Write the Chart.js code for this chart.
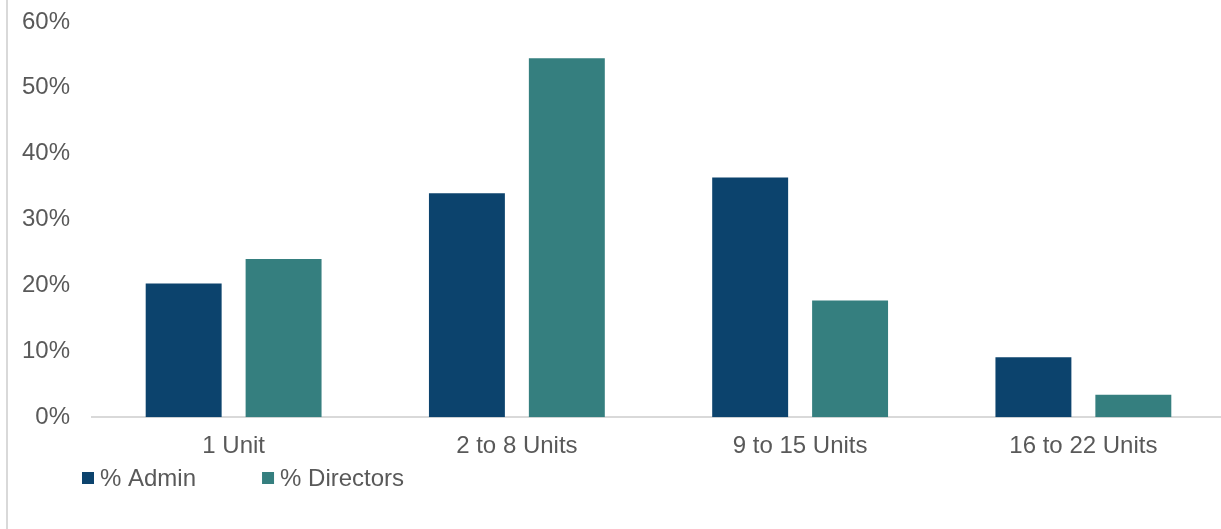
<!DOCTYPE html>
<html>
<head>
<meta charset="utf-8">
<script src="https://cdn.jsdelivr.net/npm/chart.js@4"></script>
<style>
    html, body { margin: 0; padding: 0; background: #fff; overflow: hidden; }
    .frame { position: relative; width: 1221px; height: 529px; overflow: hidden; }
    .frame .edge { position: absolute; left: 6px; top: 0; width: 2px; height: 529px; background: #d9d9d9; }
    .frame .wrap { position: absolute; left: 0; top: 0; width: 1225px; height: 529px; }
</style>
</head>
<body>
<div class="frame">
    <div class="edge"></div>
    <div class="wrap"><canvas id="units-chart"></canvas></div>
</div>
<script>
const categories = ["1 Unit", "2 to 8 Units", "9 to 15 Units", "16 to 22 Units"];
const adminPct = [20.3, 34.0, 36.4, 9.1];
const directorsPct = [24.0, 54.5, 17.7, 3.4];
const yTicks = [0, 10, 20, 30, 40, 50, 60];

const textColor = "#595959";
const fontFamily = "'Liberation Sans', Arial, sans-serif";

// legend drawn under the axis, left aligned
const bottomLegend = {
    id: "bottomLegend",
    afterDraw(chart) {
        const ctx = chart.ctx;
        let x = 82;
        const y = 478;
        ctx.save();
        ctx.font = "24px " + fontFamily;
        ctx.textBaseline = "middle";
        ctx.textAlign = "left";
        chart.data.datasets.forEach((ds) => {
            ctx.fillStyle = ds.backgroundColor;
            ctx.fillRect(x, y - 6, 12, 12);
            ctx.fillStyle = textColor;
            ctx.fillText(ds.label, x + 18, y + 1);
            x += 18 + ctx.measureText(ds.label).width + 66;
        });
        ctx.restore();
    },
};

new Chart(document.getElementById("units-chart"), {
    type: "bar",
    data: {
        labels: categories,
        datasets: [
            {
                label: "% Admin",
                data: adminPct,
                backgroundColor: "#0c436d",
                barPercentage: 0.76,
                categoryPercentage: 0.7055,
            },
            {
                label: "% Directors",
                data: directorsPct,
                backgroundColor: "#357f7f",
                barPercentage: 0.76,
                categoryPercentage: 0.7055,
            },
        ],
    },
    options: {
        responsive: true,
        maintainAspectRatio: false,
        animation: false,
        layout: {
            padding: { top: 22, bottom: 53, left: 0, right: 0 },
        },
        plugins: {
            legend: { display: false },
            tooltip: { enabled: false },
        },
        scales: {
            x: {
                grid: { display: false, drawTicks: false },
                border: { display: true, color: "#d9d9d9", width: 2 },
                ticks: {
                    color: textColor,
                    padding: 15,
                    font: { size: 24, family: fontFamily },
                },
                afterFit: (axis) => {
                    axis.paddingLeft = 0;
                    axis.paddingRight = 0;
                },
            },
            y: {
                min: 0,
                max: 60,
                grid: { display: false, drawTicks: false },
                border: { display: false },
                afterBuildTicks: (axis) => {
                    axis.ticks = yTicks.map((v) => ({ value: v }));
                },
                afterFit: (axis) => {
                    axis.width = 92;
                    axis.paddingTop = 0;
                    axis.paddingBottom = 0;
                },
                ticks: {
                    color: textColor,
                    padding: 22,
                    font: { size: 24, family: fontFamily },
                    callback: (v) => v + "%",
                },
            },
        },
    },
    plugins: [bottomLegend],
});
</script>
</body>
</html>
